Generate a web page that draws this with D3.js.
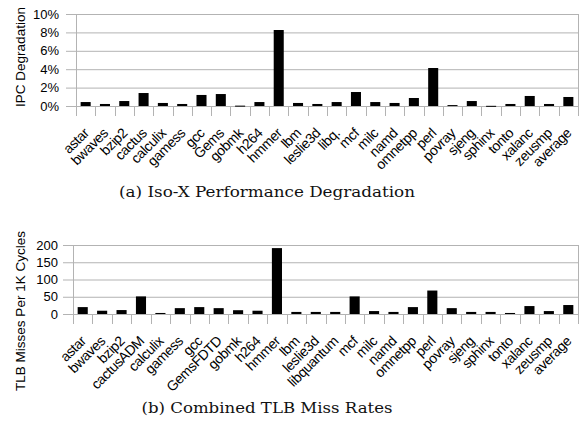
<!DOCTYPE html>
<html>
<head>
<meta charset="utf-8">
<script src="https://cdn.jsdelivr.net/npm/d3@7"></script>
<style>
  body { margin: 0; background: #fff; }
</style>
</head>
<body>
<div id="container"></div>
<script>
const w = 582;
const h = 434;
const sans = "'Liberation Sans', Arial, Helvetica, sans-serif";

// (a) IPC degradation, percent
const catsA = ["astar", "bwaves", "bzip2", "cactus", "calculix", "gamess", "gcc", "Gems", "gobmk", "h264",
  "hmmer", "lbm", "leslie3d", "libq.", "mcf", "milc", "namd", "omnetpp", "perl", "povray",
  "sjeng", "sphinx", "tonto", "xalanc", "zeusmp", "average"];
const ipcDeg = [0.43, 0.22, 0.54, 1.41, 0.33, 0.22, 1.2, 1.3, 0.04, 0.43,
  8.26, 0.33, 0.22, 0.43, 1.52, 0.43, 0.33, 0.87, 4.13, 0.1,
  0.54, 0.02, 0.22, 1.09, 0.22, 0.98];
const ticksA = [0, 2, 4, 6, 8, 10];

// (b) TLB misses per 1K cycles
const catsB = ["astar", "bwaves", "bzip2", "cactusADM", "calculix", "gamess", "gcc", "GemsFDTD", "gobmk", "h264",
  "hmmer", "lbm", "leslie3d", "libquantum", "mcf", "milc", "namd", "omnetpp", "perl", "povray",
  "sjeng", "sphinx", "tonto", "xalanc", "zeusmp", "average"];
const tlbMiss = [20, 9.5, 11.4, 51, 3, 17, 20, 17, 11, 9.5,
  191, 6, 6, 6, 51, 8.5, 6, 20, 68, 17,
  6, 6, 3, 23, 8.5, 26];
const ticksB = [0, 50, 100, 150, 200];

const svg = d3.select("#container")
  .append("svg")
  .attr("width", w)
  .attr("height", h);

function drawChart(opt) {
  const g = svg.append("g");
  const x = d3.scaleBand()
    .domain(opt.cats)
    .range([opt.left, opt.right])
    .paddingInner(0.48)
    .paddingOuter(0.24);
  const y = d3.scaleLinear()
    .domain([0, opt.max])
    .range([opt.bottom, opt.top]);
  const step = x.step();
  const grid = "#b3b3b3";

  // horizontal grid + tick labels
  g.selectAll(".grid")
    .data(opt.ticks)
    .enter()
    .append("line")
    .attr("x1", opt.left - 10)
    .attr("x2", opt.right)
    .attr("y1", d => y(d) + 0.5)
    .attr("y2", d => y(d) + 0.5)
    .attr("stroke", grid);

  g.selectAll(".ylab")
    .data(opt.ticks)
    .enter()
    .append("text")
    .attr("x", opt.labelX)
    .attr("y", d => y(d))
    .attr("dy", "0.36em")
    .attr("text-anchor", "end")
    .attr("font-family", sans)
    .attr("font-size", 13)
    .attr("fill", "#000")
    .text(opt.fmt);

  // category boundary ticks
  const bounds = d3.range(opt.cats.length + 1).map(i => opt.left + i * step);
  g.selectAll(".vt")
    .data(bounds)
    .enter()
    .append("line")
    .attr("x1", d => Math.round(d) + 0.5)
    .attr("x2", d => Math.round(d) + 0.5)
    .attr("y1", (d, i) => (i === 0 || i === bounds.length - 1) ? opt.top : opt.bottom)
    .attr("y2", opt.bottom + 10)
    .attr("stroke", grid);

  // bars
  g.selectAll(".bar")
    .data(opt.values)
    .enter()
    .append("rect")
    .attr("x", (d, i) => x(opt.cats[i]))
    .attr("width", x.bandwidth())
    .attr("y", d => y(d))
    .attr("height", d => Math.max(1, opt.bottom - y(d)))
    .attr("fill", "#000");

  // category labels
  g.selectAll(".xlab")
    .data(opt.cats)
    .enter()
    .append("text")
    .attr("transform", d => `translate(${x(d) + x.bandwidth() / 2 + 4},${opt.bottom + 28}) rotate(-45)`)
    .attr("text-anchor", "end")
    .attr("font-family", sans)
    .attr("font-size", 14)
    .attr("letter-spacing", -0.4)
    .attr("fill", "#000")
    .text(d => d);

  // axis title
  g.append("text")
    .attr("transform", `translate(25,${opt.titleY}) rotate(-90)`)
    .attr("text-anchor", "middle")
    .attr("font-family", sans)
    .attr("font-size", 13.5)
    .attr("fill", "#000")
    .text(opt.title);

  // caption
  g.append("text")
    .attr("x", 267)
    .attr("y", opt.capY)
    .attr("text-anchor", "middle")
    .attr("font-size", 15)
    .attr("font-family", "'DejaVu Serif', 'Liberation Serif', serif")
    .attr("textLength", opt.capW)
    .attr("lengthAdjust", "spacingAndGlyphs")
    .attr("fill", "#111")
    .text(opt.caption);
}

drawChart({
  cats: catsA, values: ipcDeg, ticks: ticksA, max: 10,
  left: 76, right: 578, top: 14, bottom: 106, labelX: 59,
  fmt: d => d + "%", title: "IPC Degradation", titleY: 57,
  caption: "(a) Iso-X Performance Degradation", capY: 197, capW: 296
});

drawChart({
  cats: catsB, values: tlbMiss, ticks: ticksB, max: 200,
  left: 73, right: 578, top: 245, bottom: 314, labelX: 58,
  fmt: d => d, title: "TLB Misses Per 1K Cycles", titleY: 311,
  caption: "(b) Combined TLB Miss Rates", capY: 413, capW: 251
});
</script>
</body>
</html>
